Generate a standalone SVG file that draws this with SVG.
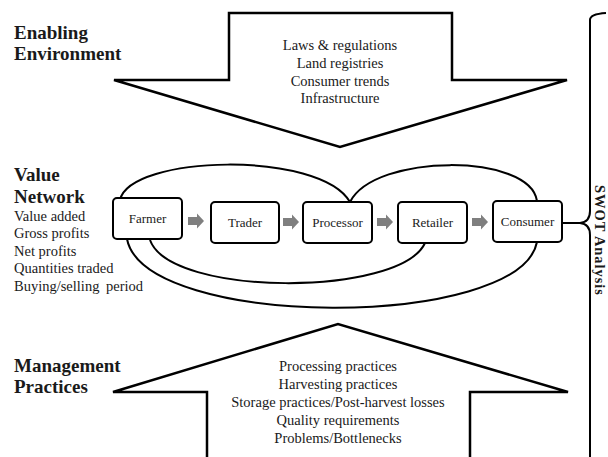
<svg xmlns="http://www.w3.org/2000/svg" width="608" height="457" viewBox="0 0 608 457">
<style>
text{font-family:"Liberation Serif","Times New Roman",serif;fill:#1a1a1a}
.h{font-size:19px;font-weight:bold}
.b{font-size:14.5px}
.c{font-size:14.5px;text-anchor:middle}
.n{font-size:13px;text-anchor:middle}
.big{fill:#fff;stroke:#000;stroke-width:2.5;stroke-linejoin:miter}
.box{fill:#fff;stroke:#000;stroke-width:2}
.curve{fill:none;stroke:#000;stroke-width:2}
.ga{fill:#7f7f7f}
</style>
<defs>
<path id="ga" d="M0,-4 H9 V-7.5 L16,0 L9,7.5 V4 H0 Z"/>
</defs>
<rect width="608" height="457" fill="#fff"/>

<g id="enabling-environment">
<polygon class="big" points="229,13 452,13 452,80 567,80 340,147 114,80 229,80"/>
<text class="h" x="14" y="39">Enabling</text>
<text class="h" x="14" y="60">Environment</text>
<text class="c" x="340" y="50">Laws &amp; regulations</text>
<text class="c" x="340" y="68">Land registries</text>
<text class="c" x="340" y="85.5">Consumer trends</text>
<text class="c" x="340" y="103">Infrastructure</text>
</g>

<g id="management-practices">
<path class="big" d="M207,462 V392 H113 L338,324 L568,392 H470 V462"/>
<text class="h" x="14" y="372">Management</text>
<text class="h" x="14" y="393">Practices</text>
<text class="c" x="338" y="371">Processing practices</text>
<text class="c" x="338" y="389">Harvesting practices</text>
<text class="c" x="338" y="407">Storage practices/Post-harvest losses</text>
<text class="c" x="338" y="425">Quality requirements</text>
<text class="c" x="338" y="443">Problems/Bottlenecks</text>
</g>

<g id="value-network-labels">
<text class="h" x="14" y="181">Value</text>
<text class="h" x="14" y="203">Network</text>
<text class="b" x="14" y="220.5">Value added</text>
<text class="b" x="14" y="238">Gross profits</text>
<text class="b" x="14" y="255.5">Net profits</text>
<text class="b" x="14" y="273">Quantities traded</text>
<text class="b" x="14" y="290.5" word-spacing="3">Buying/selling period</text>
</g>

<g id="connectors">
<path class="curve" d="M120,200 C130,155 320,150 350,202"/>
<path class="curve" d="M350,202 C375,153 530,153 537,201"/>
<path class="curve" d="M150,240 C170,297 400,297 425,243"/>
<path class="curve" d="M127,239 C145,330 520,330 537,242"/>
<use href="#ga" class="ga" x="188" y="221"/>
<use href="#ga" class="ga" x="283" y="222"/>
<use href="#ga" class="ga" x="377" y="222"/>
<use href="#ga" class="ga" x="472" y="222"/>
</g>

<g id="farmer">
<rect class="box" x="113" y="198" width="69" height="41" rx="4"/>
<text class="n" x="147.5" y="222.5">Farmer</text>
</g>
<g id="trader">
<rect class="box" x="211" y="202" width="68" height="41" rx="4"/>
<text class="n" x="245" y="226.5">Trader</text>
</g>
<g id="processor">
<rect class="box" x="303" y="202" width="69" height="41" rx="4"/>
<text class="n" x="337.5" y="226.5">Processor</text>
</g>
<g id="retailer">
<rect class="box" x="398" y="202" width="69" height="41" rx="4"/>
<text class="n" x="432.5" y="226.5">Retailer</text>
</g>
<g id="consumer">
<rect class="box" x="493" y="201" width="69" height="41" rx="4"/>
<text class="n" x="527.5" y="226">Consumer</text>
</g>

<g id="swot-analysis">
<path class="curve" d="M562,223 H580 Q590,222 590,211 V20 Q590,14 606,13 M580,223 Q590,224 590,235 V460"/>
<text transform="translate(594.5,240) rotate(90)" style="font-size:14.5px;font-weight:bold;text-anchor:middle" textLength="110" lengthAdjust="spacing">SWOT Analysis</text>
</g>
</svg>
